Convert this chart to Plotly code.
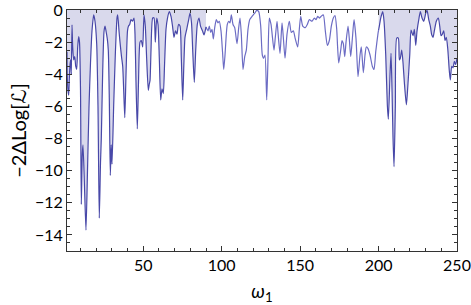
import plotly.graph_objects as go

# Segment 1 (filled), omega 1.4 .. 90
w1 = [1.36, 1.55, 2.0, 2.44, 2.82, 3.27, 3.72, 4.10, 4.55, 4.99, 5.63, 6.27, 6.91, 7.54, 8.18, 8.82,
      9.33, 9.97, 10.48, 11.11, 11.56, 12.52, 13.47, 14.43, 15.39, 16.34, 17.30, 18.38, 19.21, 20.29,
      21.12, 21.95, 22.72, 23.23, 24.12, 24.95, 25.59, 26.22, 27.05, 27.69, 28.33, 28.97, 29.54, 30.05,
      31.13, 32.15, 33.24, 33.68, 34.51, 35.15, 36.11, 36.87, 37.51, 38.21, 38.98, 39.93, 40.57, 41.34,
      42.16, 43.12, 44.08, 44.71, 45.35, 46.18, 46.95, 47.90, 48.73, 49.62, 50.45, 51.28, 52.05, 53.19,
      53.83, 54.28, 54.92, 56.0, 56.83, 57.66, 58.55, 59.38, 60.21, 61.1, 61.93, 62.76, 63.52, 64.48,
      65.44, 66.59, 67.67, 68.63, 69.58, 70.54, 71.49, 72.45, 73.41, 74.24, 75.13, 75.83, 76.59, 77.68,
      78.95, 79.78, 80.74, 81.50, 82.52, 83.42, 84.44, 85.52, 86.48, 87.75, 88.71, 89.67, 90.0]
v1 = [-2.6, -4.2, -5.0, -5.3, -4.35, -3.4, -3.1, -4.0, -0.93, -2.3, -3.1, -2.9, -3.5, -3.7, -2.3, -1.66,
      -2.0, -5.0, -12.1, -9.0, -8.4, -11.0, -13.7, -10.0, -6.0, -3.3, -1.3, -0.3, -0.7, -2.1,
      -6.0, -12.95, -9.5, -8.0, -3.8, -1.35, -1.0, -1.3, -1.8, -2.5, -5.5, -10.3, -8.4, -9.6,
      -5.9, -2.8, -0.5, -0.3, -1.3, -2.0, -2.9, -3.5, -5.0, -6.7, -4.0, -1.3, -1.0, -0.9,
      -0.6, -0.7, -0.5, -1.5, -4.5, -7.4, -4.5, -2.0, -1.9, -2.3, -0.3, -1.0, -2.8, -5.0,
      -4.6, -4.4, -2.5, -0.5, -0.5, -2.0, -0.5, -0.9, -3.0, -5.6, -4.9, -5.2, -3.5, -1.2,
      -0.5, -0.1, -0.4, -1.0, -1.7, -1.3, -1.5, -0.9, -1.0, -3.0, -5.6, -3.5, -1.7, -1.2,
      -0.6, -0.2, -0.8, -2.5, -4.5, -2.5, -0.9, -0.5, -1.0, -1.3, -1.55, -1.2, -1.05]

# Segment 2 (unfilled), omega 90 .. 200
w2 = [90.0, 91.26, 92.09, 92.98, 93.81, 94.64, 95.53, 96.55, 97.64, 98.46, 99.55, 100.51, 101.27, 102.1,
      102.93, 103.56, 104.46, 105.29, 106.12, 107.2, 108.28, 109.75, 110.83, 111.66, 112.49, 113.58,
      114.66, 115.68, 116.76, 117.85, 119.31, 121.04, 122.31, 123.59, 124.86, 125.88, 126.77, 127.60,
      128.69, 129.52, 130.35, 131.43, 133.34, 134.17, 135.25, 135.89, 137.17, 138.44, 139.27, 140.35,
      141.63, 143.1, 144.37, 145.65, 146.92, 148.45, 149.47, 150.36, 151.64, 153.3, 154.57, 155.85,
      157.57, 159.04, 160.12, 161.2, 162.22, 163.31, 164.77, 166.05, 167.33, 168.6, 169.88, 171.15,
      172.24, 173.32, 173.83, 174.6, 175.87, 176.7, 177.53, 178.42, 179.25, 180.52, 181.35, 182.24,
      183.27, 184.35, 185.63, 186.9, 188.18, 189.0, 190.28, 191.36, 192.19, 193.28, 194.55, 196.02,
      197.11, 198.19, 199.65, 200.0]
v2 = [-1.05, -1.3, -1.0, -1.4, -1.2, -1.8, -1.1, -0.6, -0.8, -0.7, -1.3, -2.6, -3.7, -2.8,
      -1.5, -0.9, -0.7, -0.8, -0.3, -0.9, -1.1, -2.1, -1.1, -0.5, -1.5, -3.7,
      -2.9, -2.5, -1.2, -0.6, -0.4, -0.2, -0.02, -0.1, -1.0, -2.8, -3.0, -2.8,
      -5.6, -3.0, -0.5, -0.9, -2.5, -1.7, -0.7, -1.4, -2.7, -0.8, -1.7, -3.0,
      -1.5, -0.7, -1.4, -1.3, -1.8, -2.3, -1.2, -0.4, -1.0, -1.1, -0.9, -0.6,
      -0.7, -0.5, -0.6, -0.4, -0.5, -0.4, -0.3, -1.3, -2.2, -1.9, -1.0, -0.5,
      -0.35, -1.2, -2.2, -3.3, -2.5, -1.9, -2.1, -2.9, -2.0, -1.0, -1.8, -2.9,
      -1.8, -0.6, -1.8, -4.15, -2.8, -2.3, -3.9, -2.8, -2.3, -2.4, -2.8, -3.5,
      -3.7, -2.6, -1.45, -1.25]

# Segment 3 (filled), omega 200 .. 250
w3 = [200.0, 200.48, 201.37, 202.65, 203.48, 204.56, 205.58, 206.22, 207.31, 207.95, 208.58, 209.22,
      209.86, 210.69, 211.58, 212.6, 213.24, 213.88, 214.77, 215.6, 216.43, 217.7, 218.34, 219.87,
      220.7, 221.97, 222.8, 223.69, 224.52, 225.8, 226.63, 227.71, 228.8, 230.07, 230.9, 231.98,
      233.0, 233.89, 234.72, 235.55, 236.82, 238.1, 238.99, 239.82, 240.65, 241.54, 242.37, 243.2,
      244.09, 245.11, 245.75, 246.64, 247.47, 248.3, 249.19, 250.0]
v3 = [-1.25, -1.0, -0.5, -0.1, -0.7, -2.8, -5.9, -6.8, -4.0, -2.7, -5.0, -8.0,
      -9.75, -6.0, -1.75, -1.75, -3.1, -3.0, -2.5, -3.3, -4.5, -5.9, -5.2, -2.8,
      -1.25, -1.6, -1.2, -2.2, -1.3, -0.5, -0.1, -0.5, -0.7, -0.2, -0.02, -0.6,
      -1.0, -1.55, -1.7, -1.3, -0.7, -0.5, -1.0, -1.6, -1.5, -1.3, -1.9, -1.7,
      -2.4, -3.8, -4.35, -3.5, -3.6, -3.2, -3.4, -3.0]

x_ticks = [50, 100, 150, 200, 250]
y_ticks = [0, -2, -4, -6, -8, -10, -12, -14]

FILL = "rgb(217,217,236)"
LINE_DARK = "rgb(72,72,168)"
LINE_LIGHT = "rgb(108,108,196)"
SHAPE = dict(shape="spline", smoothing=0.6)

fig = go.Figure()

for wx, vy in [(w1, v1), (w3, v3)]:
    fig.add_trace(go.Scatter(x=[wx[0], wx[-1]], y=[0, 0], mode="lines",
                             line=dict(width=0), hoverinfo="skip", showlegend=False))
    fig.add_trace(go.Scatter(x=wx, y=vy, mode="lines", fill="tonexty", fillcolor=FILL,
                             line=dict(width=0, **SHAPE), showlegend=False, hoverinfo="skip"))

fig.add_trace(go.Scatter(x=w2, y=v2, mode="lines", line=dict(color=LINE_LIGHT, width=1.2, **SHAPE),
                         showlegend=False))
fig.add_trace(go.Scatter(x=w1, y=v1, mode="lines", line=dict(color=LINE_DARK, width=1.2, **SHAPE),
                         showlegend=False))
fig.add_trace(go.Scatter(x=w3, y=v3, mode="lines", line=dict(color=LINE_DARK, width=1.2, **SHAPE),
                         showlegend=False))

FONT = "Lato, Open Sans, DejaVu Sans, sans-serif"
axis_common = dict(
    showgrid=False, zeroline=False, showline=True, linecolor="#333", linewidth=1,
    mirror="ticks", ticks="inside", ticklen=5, tickwidth=1, tickcolor="#333",
    tickfont=dict(family=FONT, size=16, color="black"), automargin=False,
    ticklabeloverflow="allow",
)

fig.update_xaxes(
    range=[1.36, 250], tickvals=x_ticks, ticktext=[str(t) for t in x_ticks],
    minor=dict(ticks="inside", ticklen=3, dtick=10, tick0=0, tickcolor="#333", showgrid=False),
    title=dict(text="<i>ω</i><sub>1</sub>", font=dict(family=FONT, size=19, color="black"),
               standoff=19),
    **axis_common,
)
fig.update_yaxes(
    range=[-15, 0], tickvals=y_ticks, ticktext=[("\u2212" + str(-t)) if t < 0 else "0" for t in y_ticks],
    minor=dict(ticks="inside", ticklen=3, dtick=0.5, tick0=0, tickcolor="#333", showgrid=False),
    title=dict(text="\u22122\u0394Log[\u2112]", font=dict(family=FONT, size=20, color="black"),
               standoff=2),
    **axis_common,
)

fig.update_layout(
    width=471, height=305,
    margin=dict(l=67, r=14, t=10, b=54),
    plot_bgcolor="white", paper_bgcolor="white",
)

fig.write_html("out.html", config={"displayModeBar": False},
               post_script="document.body.style.margin='0';document.body.style.overflow='hidden';")
